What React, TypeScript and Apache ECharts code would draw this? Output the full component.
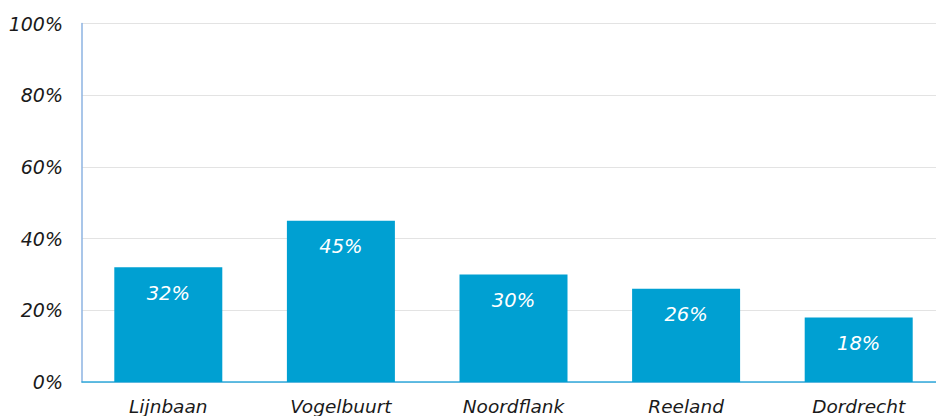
import React, { useEffect, useRef } from "react";
import * as echarts from "echarts";

const categories = ["Lijnbaan", "Vogelbuurt", "Noordflank", "Reeland", "Dordrecht"];
const values = [32, 45, 30, 26, 18];
const yTicks = { min: 0, max: 100, interval: 20 };

export default function App() {
  const ref = useRef<HTMLDivElement>(null);
  useEffect(() => {
    const chart = echarts.init(ref.current!, null, { renderer: "svg" });
    const font = "DejaVu Sans, Verdana, sans-serif";
    chart.setOption({
      animation: false,
      grid: { left: 82, right: 0, top: 23.5, bottom: 33, containLabel: false },
      xAxis: {
        type: "category",
        data: categories,
        axisLine: { show: true, lineStyle: { color: "#2fa9dc", width: 1.5 } },
        axisTick: { show: false },
        axisLabel: {
          color: "#1a1a1a",
          fontStyle: "italic",
          fontFamily: font,
          fontSize: 18.5,
          margin: 15,
        },
      },
      yAxis: {
        type: "value",
        min: yTicks.min,
        max: yTicks.max,
        interval: yTicks.interval,
        axisLine: { show: true, lineStyle: { color: "#8db3e2", width: 1.5 } },
        axisTick: { show: false },
        splitLine: { lineStyle: { color: "#e3e3e3", width: 1 } },
        axisLabel: {
          formatter: "{value}%",
          color: "#1a1a1a",
          fontStyle: "italic",
          fontFamily: font,
          fontSize: 19,
          margin: 19,
        },
      },
      series: [
        {
          type: "bar",
          data: values,
          barWidth: 108,
          itemStyle: { color: "#00a0d2" },
          label: {
            show: true,
            position: "insideTop",
            distance: 16,
            formatter: "{c}%",
            color: "#ffffff",
            fontStyle: "italic",
            fontFamily: font,
            fontSize: 19.5,
          },
        },
      ],
    });
    return () => chart.dispose();
  }, []);
  return (
    <div style={{ width: 936, height: 416, position: "absolute", left: 0, top: 0, overflow: "hidden" }}>
      <div ref={ref} style={{ width: 945, height: 416 }} />
    </div>
  );
}
